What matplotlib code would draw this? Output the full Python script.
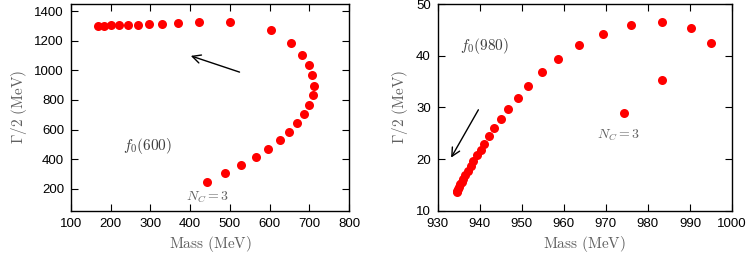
import matplotlib
matplotlib.use("Agg")
import matplotlib.pyplot as plt

plt.rcParams['mathtext.fontset'] = 'cm'
plt.rcParams['font.family'] = ['Liberation Sans', 'DejaVu Sans']

# f0(600) trajectory
m600 = [167, 184, 202, 222, 244, 269, 296, 329, 370, 423, 500,
        604, 655, 681, 698, 708, 712, 709, 700, 687, 670, 650, 625, 597, 565, 529, 488, 443]
g600 = [1303, 1303, 1305, 1305, 1308, 1310, 1312, 1317, 1323, 1328, 1330,
        1276, 1186, 1107, 1037, 967, 897, 832, 766, 705, 644, 586, 529, 471, 417, 360, 306, 245]

# f0(980) trajectory
m980 = [974.4, 983.4, 995.0, 990.3, 983.4, 976.0, 969.2, 963.5, 958.6, 954.8, 951.5, 949.0,
        946.8, 945.0, 943.5, 942.2, 941.1, 940.2, 939.3, 938.5, 937.8, 937.2, 936.6,
        936.1, 935.7, 935.4, 935.1, 934.9, 934.7, 934.5]
g980 = [29.0, 35.3, 42.4, 45.4, 46.5, 46.0, 44.3, 42.0, 39.3, 36.8, 34.2, 31.9,
        29.7, 27.8, 26.1, 24.5, 23.0, 21.8, 20.7, 19.6, 18.6, 17.7, 16.9,
        16.2, 15.6, 15.1, 14.6, 14.2, 13.9, 13.6]

fig = plt.figure(figsize=(7.48, 2.54), dpi=100)
ax1 = fig.add_axes([0.0949, 0.1705, 0.3717, 0.8135])
ax2 = fig.add_axes([0.5852, 0.1705, 0.3934, 0.8135])

gray = '#606060'
for ax in (ax1, ax2):
    ax.tick_params(direction='in', top=True, right=True, length=5, width=0.8,
                   labelsize=9.5, pad=5)
    for s in ax.spines.values():
        s.set_linewidth(1.0)
    ax.set_xlabel(r'$\mathrm{Mass\ (MeV)}$', fontsize=11, color=gray, labelpad=3)
    ax.set_ylabel(r'$\Gamma/2\ \mathrm{(MeV)}$', fontsize=11, color=gray, labelpad=4)

ax1.plot(m600, g600, 'o', color='#ff0000', markersize=6.5, markeredgewidth=0)
ax1.set_xlim(100, 800)
ax1.set_ylim(50, 1450)
ax1.set_xticks(range(100, 801, 100))
ax1.set_yticks(range(200, 1401, 200))
ax1.annotate('', xy=(395, 1105), xytext=(531, 983),
             arrowprops=dict(arrowstyle='->', color='black', lw=1.0,
                             mutation_scale=15))
ax1.text(232, 486, r'$f_0(600)$', fontsize=11, color='#404040', va='center', ha='left')
ax1.text(443, 141, r'$N_C=3$', fontsize=10, color=gray, va='center', ha='center')

ax2.plot(m980, g980, 'o', color='#ff0000', markersize=6.5, markeredgewidth=0)
ax2.set_xlim(930, 1000)
ax2.set_ylim(10, 50)
ax2.set_xticks(range(930, 1001, 10))
ax2.set_yticks(range(10, 51, 10))
ax2.annotate('', xy=(932.85, 19.8), xytext=(940.0, 30.0),
             arrowprops=dict(arrowstyle='->', color='black', lw=1.0,
                             mutation_scale=15))
ax2.text(935.3, 41.8, r'$f_0(980)$', fontsize=11, color='#404040', va='center', ha='left')
ax2.text(972.9, 24.5, r'$N_C=3$', fontsize=10, color=gray, va='center', ha='center')

fig.savefig('out.png', dpi=100)
